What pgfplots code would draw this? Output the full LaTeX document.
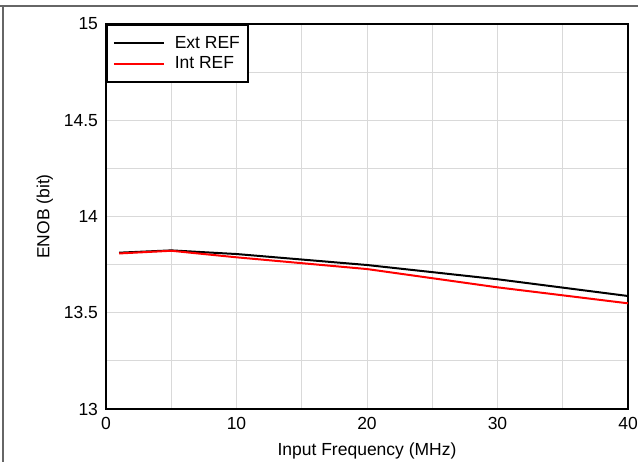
\documentclass[border=0pt]{standalone}
\usepackage{fontspec}
\setmainfont{Liberation Sans}
\usepackage{pgfplots}
\pgfplotsset{compat=1.18}
\begin{document}
\fontsize{17.5bp}{20bp}\selectfont
\begin{tikzpicture}
\path[use as bounding box] (-106bp,-53bp) rectangle (532bp,409bp);
\draw[gray!80!black, line width=1.2bp] (-106bp,403bp) -- (532bp,403bp);
\draw[gray!80!black, line width=1.2bp] (-103bp,-53bp) -- (-103bp,403bp);
\begin{axis}[
  at={(0,0)}, anchor=south west,
  scale only axis, width=522bp, height=385bp,
  xmin=0, xmax=40, ymin=13, ymax=15,
  xtick={0,10,20,30,40},
  minor xtick={5,15,25,35},
  ytick={13,13.5,14,14.5,15},
  minor ytick={13.25,13.75,14.25,14.75},
  yticklabels={13,13.5,14,14.5,15},
  grid=both,
  grid style={line width=1bp, draw=black!15},
  major tick length=0pt, minor tick length=0pt,
  axis line style={line width=2bp, black},
  /pgf/number format/assume math mode=true,
  tick label style={font=\fontsize{17.5bp}{20bp}\selectfont},
  xticklabel style={yshift=-2bp},
  yticklabel style={xshift=-2bp},
  xlabel={Input Frequency (MHz)},
  ylabel={ENOB (bit)},
  label style={font=\fontsize{17.5bp}{20bp}\selectfont},
  xlabel style={at={(axis description cs:0.5,0)}, anchor=north, yshift=-28bp},
  ylabel style={at={(axis description cs:-0.117,0.5)}, anchor=center},
  legend style={at={(0,1)}, anchor=north west, line width=2bp, draw=black,
    font=\fontsize{17.5bp}{20bp}\selectfont, inner xsep=6bp, inner ysep=9bp,
    row sep=2bp, cells={anchor=west},
    /tikz/every odd column/.append style={column sep=8bp}},
  legend cell align=left,
  legend image code/.code={\draw[#1, line width=1.8bp] (0bp,0bp) -- (50bp,0bp);},
]
\addplot[black, line width=2bp] coordinates {
  (1,13.812) (5,13.824) (10,13.805) (20,13.748) (30,13.674) (40,13.587)};
\addlegendentry{Ext REF}
\addplot[red, line width=2bp] coordinates {
  (1,13.808) (5,13.822) (10,13.788) (20,13.727) (30,13.632) (40,13.549)};
\addlegendentry{Int REF}
\end{axis}
\end{tikzpicture}
\end{document}
